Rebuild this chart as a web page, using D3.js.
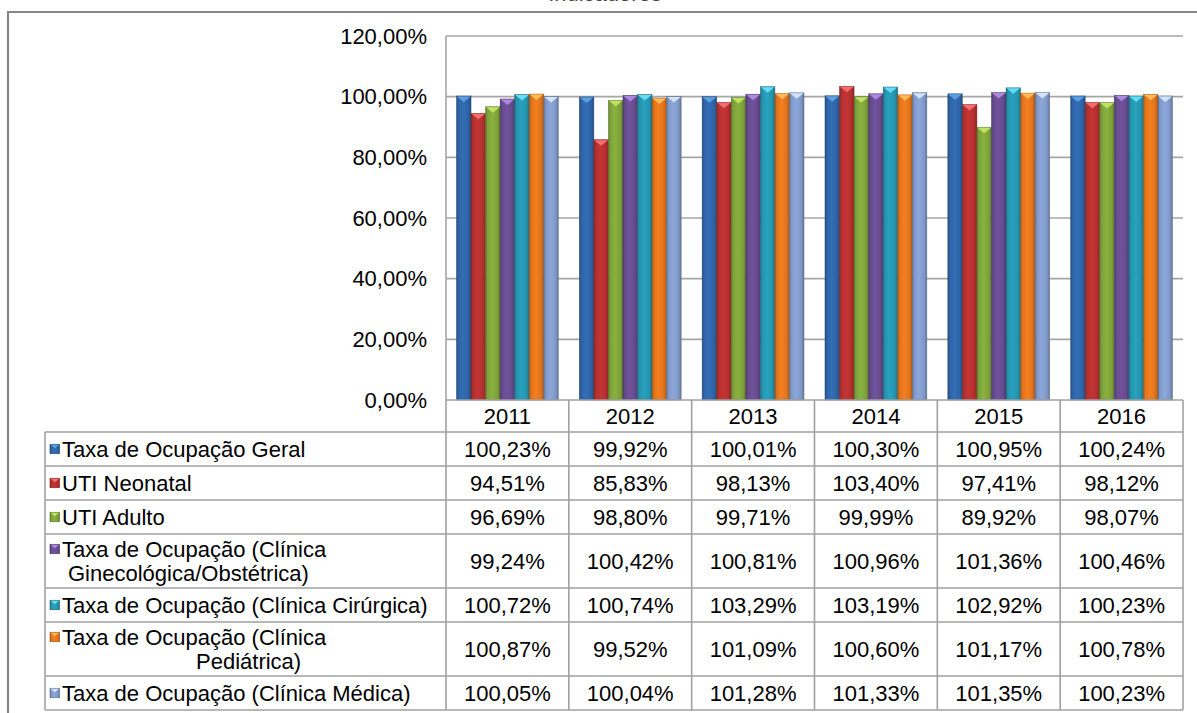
<!DOCTYPE html>
<html>
<head>
<meta charset="utf-8">
<script src="https://cdn.jsdelivr.net/npm/d3@7"></script>
<style>
  html, body { margin: 0; padding: 0; background: #fff; }
  svg { display: block; font-family: "Liberation Sans", Arial, sans-serif; }
</style>
</head>
<body>
<svg id="chart" width="1197" height="713"></svg>
<script>
// ---- data ----
const years = ["2011", "2012", "2013", "2014", "2015", "2016"];
const seriesLabels = [
  ["Taxa de Ocupação Geral"],
  ["UTI Neonatal"],
  ["UTI Adulto"],
  ["Taxa de Ocupação (Clínica", "Ginecológica/Obstétrica)"],
  ["Taxa de Ocupação (Clínica Cirúrgica)"],
  ["Taxa de Ocupação (Clínica", "Pediátrica)"],
  ["Taxa de Ocupação (Clínica Médica)"]
];
const taxaGeral   = [100.23, 99.92, 100.01, 100.30, 100.95, 100.24];
const utiNeonatal = [94.51, 85.83, 98.13, 103.40, 97.41, 98.12];
const utiAdulto   = [96.69, 98.80, 99.71, 99.99, 89.92, 98.07];
const ginecoObst  = [99.24, 100.42, 100.81, 100.96, 101.36, 100.46];
const cirurgica   = [100.72, 100.74, 103.29, 103.19, 102.92, 100.23];
const pediatrica  = [100.87, 99.52, 101.09, 100.60, 101.17, 100.78];
const medica      = [100.05, 100.04, 101.28, 101.33, 101.35, 100.23];
const yTicks = [0, 20, 40, 60, 80, 100, 120];

const seriesValues = [taxaGeral, utiNeonatal, utiAdulto, ginecoObst, cirurgica, pediatrica, medica];

// bar body colour and the lighter bevel colour on each bar top
const palette = [
  { base: "#2E64A6", top: "#5E9FE4" },
  { base: "#B3302F", top: "#F36E6E" },
  { base: "#7DA23A", top: "#C0E25E" },
  { base: "#664B8E", top: "#AC88DF" },
  { base: "#2594AF", top: "#64DCF3" },
  { base: "#E0741C", top: "#FDBA5A" },
  { base: "#8099C8", top: "#D4E3FA" }
];

// ---- layout ----
const W = 1197, H = 713;
const plot = { left: 446, right: 1183, top: 36, bottom: 400 };
const table = { left: 45, headerH: 32, rowH1: 34, rowH2: 54 };
const FONT = 22;
const gridColor = "#A6A6A6";
const tableLine = "#A0A0A0";

const pt = d3.formatLocale({ decimal: ",", thousands: ".", grouping: [3], currency: ["R$", ""] });
const fmtPct = v => pt.format(".2f")(v) + "%";

const svg = d3.select("#chart");
const defs = svg.append("defs");

palette.forEach((c, i) => {
  const g = defs.append("linearGradient")
    .attr("id", "barGrad" + i).attr("x1", 0).attr("x2", 1).attr("y1", 0).attr("y2", 0);
  const dark = d3.color(c.base).darker(0.7);
  const light = d3.color(c.base).brighter(0.25);
  g.append("stop").attr("offset", "0%").attr("stop-color", dark);
  g.append("stop").attr("offset", "14%").attr("stop-color", c.base);
  g.append("stop").attr("offset", "45%").attr("stop-color", light);
  g.append("stop").attr("offset", "80%").attr("stop-color", c.base);
  g.append("stop").attr("offset", "100%").attr("stop-color", dark);
});

// chart title, mostly above the top edge of the page
svg.append("text")
  .attr("x", 605).attr("y", 1)
  .attr("text-anchor", "middle")
  .attr("font-size", 22).attr("fill", "#444")
  .text("Indicadores");

// outer chart frame
svg.append("path")
  .attr("d", `M8,${H + 5} L8,12 L${W + 5},12`)
  .attr("fill", "none").attr("stroke", "#868686").attr("stroke-width", 2.2);

// ---- scales ----
const x0 = d3.scaleBand().domain(years).range([plot.left, plot.right]).paddingInner(0).paddingOuter(0);
const x1 = d3.scaleBand().domain(d3.range(seriesValues.length)).range([0, x0.bandwidth()])
  .paddingInner(0).paddingOuter(0.72);
const y = d3.scaleLinear().domain([0, 120]).range([plot.bottom, plot.top]);

// gridlines + y labels
const yAxis = d3.axisLeft(y).tickValues(yTicks).tickSize(0).tickPadding(19)
  .tickFormat(v => fmtPct(v));
const ga = svg.append("g").attr("transform", `translate(${plot.left},0)`).call(yAxis);
ga.select(".domain").remove();
ga.selectAll("text").attr("font-size", FONT).attr("fill", "#000")
  .attr("font-family", '"Liberation Sans", Arial, sans-serif');

svg.append("g").selectAll("line").data(yTicks.filter(v => v > 0)).join("line")
  .attr("x1", plot.left).attr("x2", plot.right)
  .attr("y1", d => y(d)).attr("y2", d => y(d))
  .attr("stroke", gridColor).attr("stroke-width", 1.6);

// left edge of plot area
svg.append("line")
  .attr("x1", plot.left).attr("x2", plot.left).attr("y1", plot.top).attr("y2", plot.bottom)
  .attr("stroke", gridColor).attr("stroke-width", 1.6);

// ---- bars ----
const barG = svg.append("g");
years.forEach((yr, ci) => {
  seriesValues.forEach((vals, si) => {
    const v = vals[ci];
    const bx = x0(yr) + x1(si);
    const bw = x1.bandwidth();
    const by = y(v);
    const g = barG.append("g");
    g.append("rect")
      .attr("x", bx).attr("y", by).attr("width", bw).attr("height", plot.bottom - by)
      .attr("fill", `url(#barGrad${si})`)
      .attr("stroke", d3.color(palette[si].base).darker(1.2)).attr("stroke-width", 0.6).attr("stroke-opacity", 0.7);
    g.append("path")
      .attr("d", `M${bx + 0.5},${by + 0.5} L${bx + bw - 0.5},${by + 0.5} L${bx + bw / 2},${by + 6} Z`)
      .attr("fill", palette[si].top);
  });
});

// ---- data table ----
const rowHeights = seriesLabels.map(l => l.length > 1 ? table.rowH2 : table.rowH1);
const rowTops = [];
let acc = plot.bottom + table.headerH;
rowHeights.forEach(h => { rowTops.push(acc); acc += h; });
const tableBottom = acc;

const tg = svg.append("g");
tg.append("line").attr("x1", plot.left).attr("x2", plot.right)
  .attr("y1", plot.bottom).attr("y2", plot.bottom)
  .attr("stroke", tableLine).attr("stroke-width", 1.6);
const colEdges = years.map(yr => x0(yr)).concat([plot.right]);
tg.selectAll("line.col").data(colEdges).join("line").attr("class", "col")
  .attr("x1", d => d).attr("x2", d => d)
  .attr("y1", plot.bottom).attr("y2", tableBottom)
  .attr("stroke", tableLine).attr("stroke-width", 1.6);
tg.append("line").attr("x1", table.left).attr("x2", table.left)
  .attr("y1", rowTops[0]).attr("y2", tableBottom)
  .attr("stroke", tableLine).attr("stroke-width", 1.6);
tg.selectAll("line.row").data(rowTops.concat([tableBottom])).join("line").attr("class", "row")
  .attr("x1", table.left).attr("x2", plot.right)
  .attr("y1", d => d).attr("y2", d => d)
  .attr("stroke", tableLine).attr("stroke-width", 1.6);

// year headers
tg.selectAll("text.year").data(years).join("text").attr("class", "year")
  .attr("x", d => x0(d) + x0.bandwidth() / 2)
  .attr("y", plot.bottom + table.headerH / 2)
  .attr("dy", "0.36em").attr("text-anchor", "middle")
  .attr("font-size", FONT).attr("fill", "#000")
  .text(d => d);

// legend keys, labels and values
const wrapIndent = { 3: 6, 5: 134 };
seriesLabels.forEach((lines, si) => {
  const top = rowTops[si], h = rowHeights[si];
  const lineGap = 24;
  const firstY = top + h / 2 - (lines.length - 1) * lineGap / 2;
  const kx = 50, ks = 9.5, ky = firstY - ks / 2;
  tg.append("rect").attr("x", kx).attr("y", ky).attr("width", ks).attr("height", ks)
    .attr("fill", `url(#barGrad${si})`)
    .attr("stroke", d3.color(palette[si].base).darker(1)).attr("stroke-width", 0.6);
  tg.append("path")
    .attr("d", `M${kx + 0.5},${ky + 0.5} L${kx + ks - 0.5},${ky + 0.5} L${kx + ks / 2},${ky + 4} Z`)
    .attr("fill", palette[si].top);
  lines.forEach((ln, li) => {
    tg.append("text")
      .attr("x", 62 + (li > 0 ? (wrapIndent[si] || 0) : 0))
      .attr("y", firstY + li * lineGap)
      .attr("dy", "0.36em")
      .attr("font-size", FONT).attr("fill", "#000")
      .text(ln);
  });
  seriesValues[si].forEach((v, ci) => {
    tg.append("text")
      .attr("x", x0(years[ci]) + x0.bandwidth() / 2)
      .attr("y", top + h / 2).attr("dy", "0.36em")
      .attr("text-anchor", "middle")
      .attr("font-size", FONT).attr("fill", "#000")
      .text(fmtPct(v));
  });
});
</script>
</body>
</html>
